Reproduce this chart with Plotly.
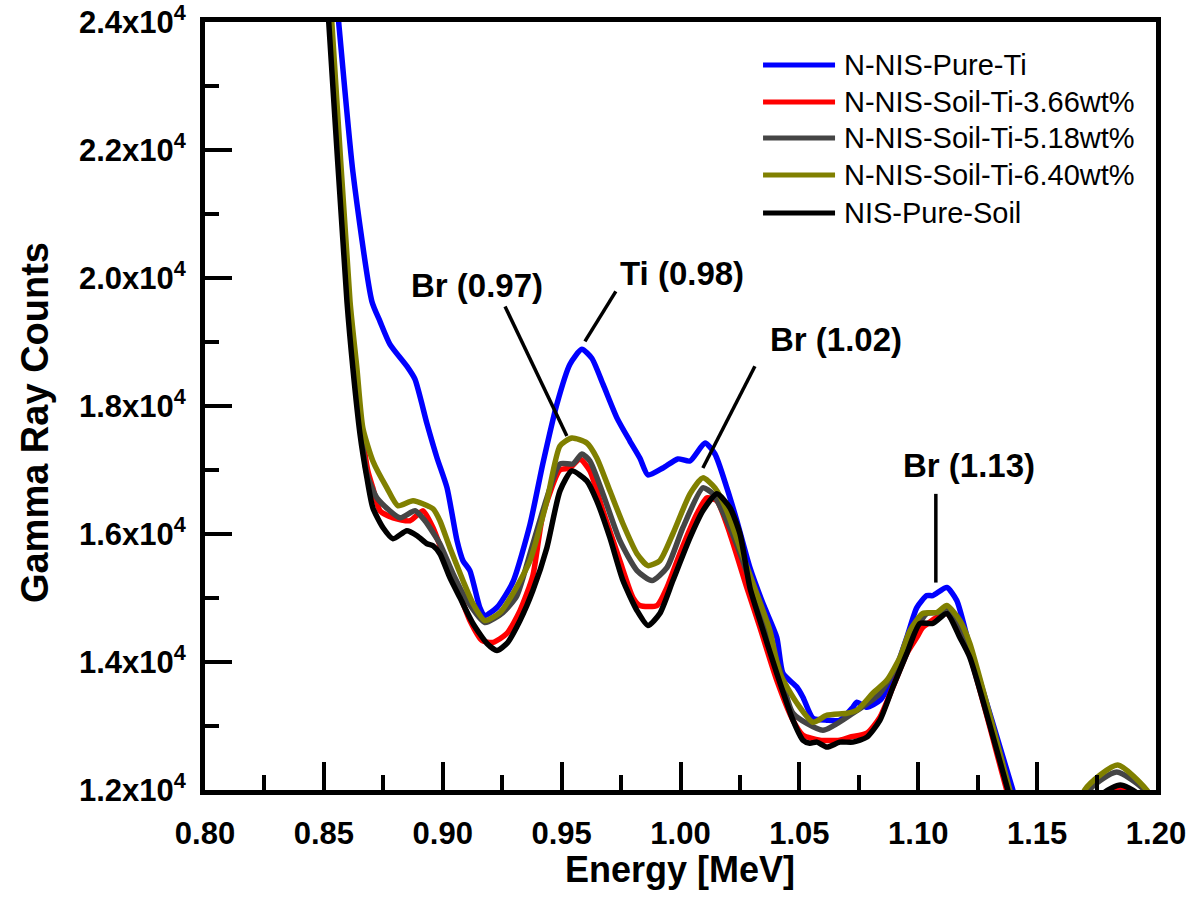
import plotly.graph_objects as go

# ---------------- data ----------------
series_names = ["N-NIS-Pure-Ti", "N-NIS-Soil-Ti-3.66wt%", "N-NIS-Soil-Ti-5.18wt%",
                "N-NIS-Soil-Ti-6.40wt%", "NIS-Pure-Soil"]
series_colors = ["#0000FF", "#FF0000", "#454545", "#808000", "#000000"]

pure_ti_x = [0.852, 0.8563, 0.8622, 0.8702, 0.8736, 0.8778, 0.8849, 0.8883, 0.8934, 0.8976,
             0.9018, 0.9060, 0.9085, 0.9114, 0.9156, 0.9177, 0.9228, 0.9295, 0.9367, 0.9421,
             0.9480, 0.9535, 0.9585, 0.9627, 0.9674, 0.9733, 0.9787, 0.9829, 0.9863, 0.9926,
             0.9989, 1.0040, 1.0103, 1.0145, 1.0195, 1.0237, 1.0292, 1.0347, 1.0405, 1.0431,
             1.0490, 1.0515, 1.0557, 1.0616, 1.0670, 1.0725, 1.0742, 1.0784, 1.0839, 1.0893,
             1.0952, 1.0994, 1.1036, 1.1061, 1.1120, 1.1162, 1.1217, 1.1398, 1.147, 1.160,
             1.172, 1.180, 1.186, 1.191, 1.200]
pure_ti_y = [25700, 23966, 21660, 19634, 19323, 18964, 18622, 18419, 17718, 17188,
             16721, 15895, 15583, 15428, 14851, 14727, 14851, 15250, 16150, 17100,
             18029, 18653, 18886, 18746, 18341, 17811, 17453, 17188, 16923, 17032,
             17173, 17141, 17422, 17250, 16721, 16207, 15474, 14913, 14384, 13823,
             13605, 13449, 13122, 13091, 13091, 13293, 13371, 13293, 13402, 13761,
             14384, 14851, 15038, 15038, 15163, 14960, 14228, 12000, 11000, 10600,
             11300, 11950, 12030, 11950, 11300]

soil_366_x = [0.849, 0.8530, 0.8606, 0.8631, 0.8660, 0.8685, 0.8706, 0.8736, 0.8791, 0.8862,
              0.8917, 0.8959, 0.9001, 0.9060, 0.9114, 0.9165, 0.9211, 0.9270, 0.9325, 0.9379,
              0.9421, 0.9493, 0.9535, 0.9577, 0.9619, 0.9674, 0.9745, 0.9800, 0.9829, 0.9901,
              0.9943, 0.9997, 1.0069, 1.0111, 1.0153, 1.0208, 1.0279, 1.0334, 1.0405, 1.0473,
              1.0515, 1.0586, 1.0670, 1.0712, 1.0784, 1.0839, 1.0893, 1.0952, 1.0994, 1.1019,
              1.1078, 1.1120, 1.1175, 1.1217, 1.1372, 1.145, 1.160, 1.172, 1.179, 1.185,
              1.191, 1.200]
soil_366_y = [26200, 23966, 19634, 18590, 17609, 16986, 16721, 16362, 16253, 16207,
              16362, 16098, 15692, 15163, 14649, 14337, 14306, 14446, 14804, 15350,
              16300, 17000, 17032, 17173, 16986, 16362, 15583, 15007, 14882, 14882,
              15163, 15692, 16316, 16565, 16518, 16004, 15163, 14540, 13714, 13091,
              12857, 12779, 12779, 12826, 12888, 13137, 13605, 14134, 14384, 14540,
              14695, 14758, 14446, 14103, 12000, 11000, 10600, 11300, 11950, 12050,
              11950, 11300]

soil_518_x = [0.849, 0.8528, 0.8601, 0.8631, 0.8656, 0.8681, 0.8723, 0.8820, 0.8883, 0.8925,
              0.8988, 0.9043, 0.9102, 0.9177, 0.9253, 0.9312, 0.9367, 0.9438, 0.9493, 0.9548,
              0.9585, 0.9619, 0.9674, 0.9745, 0.9817, 0.9880, 0.9943, 1.0010, 1.0094, 1.0136,
              1.0195, 1.0262, 1.0347, 1.0418, 1.0473, 1.0599, 1.0725, 1.0839, 1.0923, 1.0994,
              1.1036, 1.1091, 1.1120, 1.1175, 1.1217, 1.1381, 1.146, 1.160, 1.172, 1.1835,
              1.195, 1.200]
soil_518_y = [26200, 23966, 19634, 18590, 17609, 16939, 16565, 16253, 16362, 16207,
              15848, 15381, 14960, 14617, 14773, 15038, 15692, 16565, 17095, 17095,
              17250, 17141, 16627, 15895, 15428, 15272, 15474, 16098, 16721, 16627,
              16207, 15583, 14649, 13870, 13200, 12935, 13200, 13511, 14025, 14540,
              14758, 14773, 14851, 14571, 14181, 12000, 11000, 10600, 12000, 12280,
              12000, 11500]

soil_640_x = [0.849, 0.8534, 0.8610, 0.8639, 0.8664, 0.8706, 0.8765, 0.8812, 0.8875, 0.8959,
              0.8988, 0.9030, 0.9085, 0.9127, 0.9177, 0.9241, 0.9295, 0.9367, 0.9438, 0.9493,
              0.9543, 0.9606, 0.9648, 0.9703, 0.9758, 0.9817, 0.9863, 0.9913, 0.9968, 1.0040,
              1.0094, 1.0145, 1.0195, 1.0250, 1.0321, 1.0376, 1.0418, 1.0490, 1.0557, 1.0616,
              1.0700, 1.0742, 1.0809, 1.0868, 1.0923, 1.0965, 1.1019, 1.1078, 1.1120, 1.1175,
              1.1217, 1.1385, 1.146, 1.160, 1.170, 1.1839, 1.1961, 1.200]
soil_640_y = [26300, 23966, 19634, 18590, 17655, 17141, 16721, 16440, 16518, 16394,
              16207, 15786, 15272, 14913, 14649, 14773, 15069, 15583, 16518, 17375,
              17500, 17422, 17188, 16674, 16160, 15692, 15506, 15583, 16004, 16627,
              16877, 16721, 16362, 15786, 15069, 14493, 13823, 13355, 13059, 13169,
              13200, 13246, 13511, 13714, 14072, 14493, 14758, 14773, 14882, 14649,
              14290, 12000, 11000, 10600, 12000, 12390, 12000, 11750]

pure_soil_x = [0.848, 0.8521, 0.8597, 0.8622, 0.8652, 0.8681, 0.8706, 0.8749, 0.8791, 0.8849,
               0.8892, 0.8934, 0.8959, 0.8988, 0.9030, 0.9072, 0.9127, 0.9186, 0.9228, 0.9270,
               0.9325, 0.9379, 0.9438, 0.9493, 0.9543, 0.9606, 0.9648, 0.9703, 0.9758, 0.9817,
               0.9863, 0.9913, 0.9968, 1.0040, 1.0094, 1.0153, 1.0208, 1.0250, 1.0292, 1.0334,
               1.0405, 1.0473, 1.0515, 1.0544, 1.0574, 1.0616, 1.0670, 1.0725, 1.0784, 1.0839,
               1.0893, 1.0952, 1.1007, 1.1061, 1.1120, 1.1175, 1.1217, 1.1377, 1.145, 1.160,
               1.172, 1.178, 1.185, 1.192, 1.200]
pure_soil_y = [26300, 23966, 19634, 18590, 17562, 16877, 16409, 16098, 15926, 16051,
               15973, 15848, 15817, 15692, 15319, 15007, 14602, 14290, 14181, 14290,
               14649, 15116, 15786, 16674, 16986, 16830, 16518, 15942, 15272, 14804,
               14571, 14758, 15272, 15942, 16362, 16627, 16409, 16004, 15163, 14649,
               13823, 13091, 12779, 12732, 12748, 12670, 12748, 12748, 12826, 13091,
               13605, 14134, 14602, 14602, 14758, 14384, 14072, 12000, 11000, 10600,
               11300, 11950, 12080, 11950, 11300]

x_tick_vals = [0.80, 0.85, 0.90, 0.95, 1.00, 1.05, 1.10, 1.15, 1.20]
x_tick_text = ["0.80", "0.85", "0.90", "0.95", "1.00", "1.05", "1.10", "1.15", "1.20"]
y_tick_vals = [12000, 14000, 16000, 18000, 20000, 22000, 24000]
y_tick_text = ["1.2x10<sup>4</sup>", "1.4x10<sup>4</sup>", "1.6x10<sup>4</sup>",
               "1.8x10<sup>4</sup>", "2.0x10<sup>4</sup>", "2.2x10<sup>4</sup>",
               "2.4x10<sup>4</sup>"]

x_title = "Energy [MeV]"
y_title = "Gamma Ray Counts"

peak_labels = ["Br (0.97)", "Ti (0.98)", "Br (1.02)", "Br (1.13)"]
peak_label_x = [0.9144, 1.0006, 1.0653, 1.1213]
peak_label_y = [19883, 20070, 19042, 17064]
peak_line_x0 = [0.9262, 0.9728, 1.0313, 1.1074]
peak_line_y0 = [19556, 19790, 18622, 16627]
peak_line_x1 = [0.9522, 0.9598, 1.0094, 1.1074]
peak_line_y1 = [17531, 19011, 17032, 15241]

# ---------------- figure ----------------
FONT = "Liberation Sans, Arial, sans-serif"
all_x = [pure_ti_x, soil_366_x, soil_518_x, soil_640_x, pure_soil_x]
all_y = [pure_ti_y, soil_366_y, soil_518_y, soil_640_y, pure_soil_y]

fig = go.Figure()
for name, col, xs, ys in zip(series_names, series_colors, all_x, all_y):
    fig.add_trace(go.Scatter(
        x=xs, y=ys, mode="lines", name=name,
        line=dict(color=col, width=5.5, shape="spline", smoothing=0.6),
        showlegend=False,
    ))

# peak annotations
for txt, tx, ty, x0, y0, x1, y1 in zip(peak_labels, peak_label_x, peak_label_y,
                                       peak_line_x0, peak_line_y0, peak_line_x1, peak_line_y1):
    fig.add_annotation(x=tx, y=ty, xref="x", yref="y", text=txt, showarrow=False,
                       xanchor="center", yanchor="middle",
                       font=dict(family=FONT, size=33, color="black", weight="bold"))
    fig.add_shape(type="line", xref="x", yref="y", x0=x0, y0=y0, x1=x1, y1=y1,
                  line=dict(color="black", width=3.5))

# manual legend (long line samples as in the reference)
legend_rows_y = [0.9440, 0.8958, 0.8490, 0.8008, 0.7513]
for name, col, ly in zip(series_names, series_colors, legend_rows_y):
    fig.add_shape(type="line", xref="paper", yref="paper", x0=0.5868, x1=0.6625,
                  y0=ly, y1=ly, line=dict(color=col, width=5))
    fig.add_annotation(xref="paper", yref="paper", x=0.6698, y=ly, text=name,
                       showarrow=False, xanchor="left", yanchor="middle",
                       font=dict(family=FONT, size=29, color="black"))

# axis titles
fig.add_annotation(xref="paper", yref="paper", x=0.4995, y=-0.104, text=x_title,
                   showarrow=False, xanchor="center", yanchor="middle",
                   font=dict(family=FONT, size=36, color="black", weight="bold"))
fig.add_annotation(xref="paper", yref="paper", x=-0.1788, y=0.479, text=y_title,
                   showarrow=False, xanchor="center", yanchor="middle", textangle=-90,
                   font=dict(family=FONT, size=38, color="black", weight="bold"))

axis_common = dict(
    showline=True, linecolor="black", linewidth=5, mirror=True,
    ticks="inside", tickcolor="black", tickwidth=4,
    showgrid=False, zeroline=False, ticklabeloverflow="allow",
    tickfont=dict(family=FONT, size=31, color="black", weight="bold"),
)

fig.update_xaxes(
    range=[0.80, 1.20], tickvals=x_tick_vals, ticktext=x_tick_text, ticklen=28,
    ticklabelstandoff=12,
    minor=dict(ticks="inside", ticklen=15, tickwidth=4, tickcolor="black", dtick=0.025,
               tick0=0.8, showgrid=False),
    **axis_common,
)
fig.update_yaxes(
    range=[12000, 24000], tickvals=y_tick_vals, ticktext=y_tick_text, ticklen=27,
    ticklabelstandoff=8,
    minor=dict(ticks="inside", ticklen=14, tickwidth=4, tickcolor="black", dtick=1000,
               tick0=12000, showgrid=False),
    **axis_common,
)

fig.update_layout(
    width=1202, height=914,
    margin=dict(l=205, r=46, t=22, b=124, autoexpand=False),
    plot_bgcolor="white", paper_bgcolor="white",
    showlegend=False,
)

fig.write_html("out.html")
